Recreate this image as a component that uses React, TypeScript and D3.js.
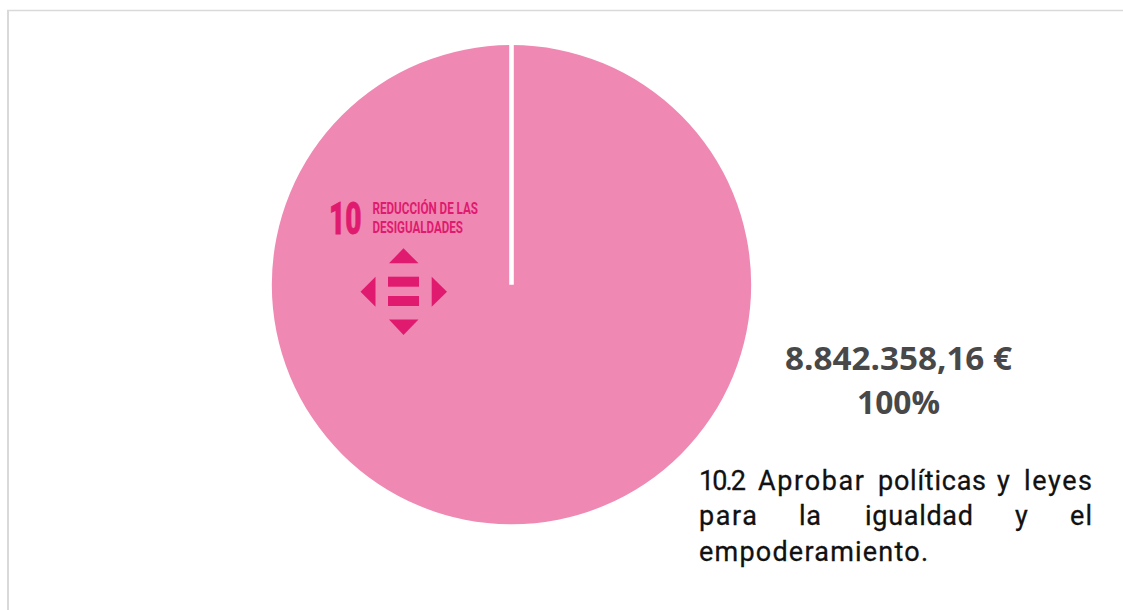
import React from "react";
import * as d3 from "d3";

const categories = ["10.2 Aprobar políticas y leyes para la igualdad y el empoderamiento."];
const values = [8842358.16];
const amountLabel = "8.842.358,16 €";
const percentLabel = "100%";
const goalNumber = "10";
const goalLines = ["REDUCCIÓN DE LAS", "DESIGUALDADES"];
const descriptionLines = [
  ["10.2", "Aprobar", "políticas", "y", "leyes"],
  ["para", "la", "igualdad", "y", "el"],
  ["empoderamiento."],
];
// Left edge and width of each word (justified paragraph)
const descriptionWordX = [
  [699, 758, 878, 997, 1024],
  [699, 799, 865, 1015, 1070],
  [699],
];
const descriptionWordW = [
  [47, 106, 108, 18, 68],
  [58, 22, 108, 18, 22],
  [229],
];

const WIDTH = 1123;
const HEIGHT = 610;
const CX = 511.5;
const CY = 284.7;
const R = 239.6;
const PINK = "#EF89B3";
const DARK = "#E01A6E";

const bodyFont = "Roboto, sans-serif";

export default function App() {
  const pie = d3.pie<number>().sort(null);
  const arcs = pie(values);
  const arc = d3.arc<d3.PieArcDatum<number>>().innerRadius(0).outerRadius(R);
  const [sx, sy] = d3.pointRadial(arcs[0].startAngle, R);
  const tri = d3.line();
  return (
    <svg
      width={WIDTH}
      height={HEIGHT}
      viewBox={`0 0 ${WIDTH} ${HEIGHT}`}
      style={{ position: "absolute", left: 0, top: 0, background: "#fff" }}
    >
      <line x1={8} y1={10.5} x2={8} y2={HEIGHT} stroke="#D9D9D9" strokeWidth={2} />
      <line x1={7} y1={10.5} x2={WIDTH} y2={10.5} stroke="#D9D9D9" strokeWidth={1.5} />

      <g transform={`translate(${CX},${CY})`}>
        {arcs.map((d, i) => (
          <path key={categories[i]} d={arc(d) ?? ""} fill={PINK} />
        ))}
        <line x1={0} y1={0} x2={sx} y2={sy - 1} stroke="#fff" strokeWidth={4.6} />
      </g>

      <g fill={DARK}>
        <text
          x={329}
          y={233.8}
          fontFamily={bodyFont}
          fontWeight={900}
          fontSize={44}
          textLength={32.5}
          lengthAdjust="spacingAndGlyphs"
          stroke={DARK}
          strokeWidth={0.8}
        >
          {goalNumber}
        </text>
        <text
          x={372.5}
          y={214.2}
          fontFamily={bodyFont}
          fontWeight={700}
          fontSize={16}
          textLength={105.5}
          lengthAdjust="spacingAndGlyphs"
        >
          {goalLines[0]}
        </text>
        <text
          x={372.5}
          y={233.3}
          fontFamily={bodyFont}
          fontWeight={700}
          fontSize={16}
          textLength={90.5}
          lengthAdjust="spacingAndGlyphs"
        >
          {goalLines[1]}
        </text>
        <path d={tri([[403.5, 248.3], [418.5, 263.3], [389, 263.3]]) + "Z"} />
        <path d={tri([[403.5, 335], [418.5, 319.5], [389, 319.5]]) + "Z"} />
        <path d={tri([[360.5, 291.7], [375.5, 276.7], [375.5, 306.7]]) + "Z"} />
        <path d={tri([[447, 291.7], [431.7, 276.7], [431.7, 306.7]]) + "Z"} />
        <rect x={388} y={276.7} width={31} height={10} />
        <rect x={388} y={296} width={31} height={10} />
      </g>

      <g textAnchor="middle" fill="#484848" fontFamily="'Open Sans', sans-serif" fontWeight={700} fontSize={33}>
        <text x={898.5} y={369.5} textLength={227} lengthAdjust="spacingAndGlyphs">{amountLabel}</text>
        <text x={898.5} y={414} textLength={83} lengthAdjust="spacingAndGlyphs">{percentLabel}</text>
      </g>

      <g fill="#111" stroke="#111" strokeWidth={0.3} fontFamily={bodyFont} fontSize={27} fontWeight={400}>
        {descriptionLines.map((words, li) =>
          words.map((w, wi) => (
            <text
              key={`${li}-${wi}`}
              x={descriptionWordX[li][wi]}
              y={489.5 + li * 35.8}
              textLength={descriptionWordW[li][wi]}
              lengthAdjust="spacing"
            >
              {w}
            </text>
          ))
        )}
      </g>
    </svg>
  );
}
